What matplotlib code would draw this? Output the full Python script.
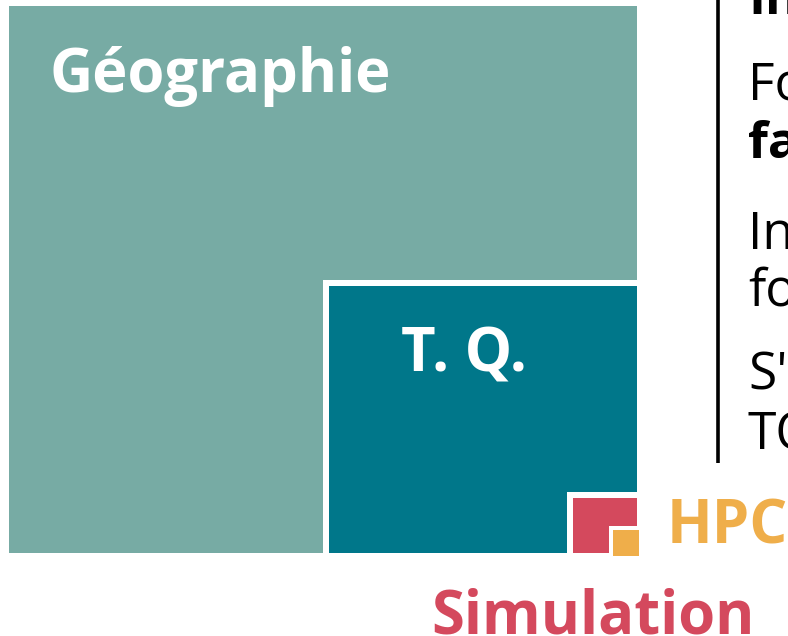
import matplotlib
matplotlib.use("Agg")
import matplotlib.pyplot as plt
from matplotlib.patches import Rectangle

plt.rcParams['font.family'] = ['Open Sans', 'DejaVu Sans']

# nested blocks, largest first (pixel sizes)
labels = ["Géographie", "T. Q.", "Simulation", "HPC"]
block_w = [628, 308, 64, 26]
block_h = [547, 267, 55, 26]
block_right = [637, 637, 637, 639]
block_bottom = [553, 553, 553, 556]
border = [0, 6, 6, 4]
colors = ["#77aba4", "#00778a", "#d4495d", "#efae4a"]

# label placement (x, baseline y) and colour
label_xy = [(50, 92), (401, 372), (431, 633), (667, 543)]
label_color = ["white", "white", "#d4495d", "#efae4a"]

# side text, cut by the right edge of the figure
side_lines = ["In", "Fo", "fa", "In", "fo", "S'a", "TQ"]
side_bold = [True, False, True, False, False, False, False]
side_y = [14, 100, 158, 249, 305, 390, 449]

fig = plt.figure(figsize=(7.88, 6.36), dpi=100)
ax = fig.add_axes([0, 0, 1, 1])
ax.set_xlim(0, 788)
ax.set_ylim(636, 0)
ax.axis('off')

for w, h, r, b, bd, c in zip(block_w, block_h, block_right, block_bottom, border, colors):
    x0 = r - w
    y0 = b - h
    if bd:
        ax.add_patch(Rectangle((x0 - bd, y0 - bd), w + bd, h + bd, color='white', lw=0))
    ax.add_patch(Rectangle((x0, y0), w, h, color=c, lw=0))

for lab, (x, y), c in zip(labels, label_xy, label_color):
    ax.text(x, y, lab, color=c, fontsize=43, fontweight='bold', va='baseline', ha='left')

# separator line
ax.plot([718, 718], [0, 463], color='black', lw=2.6, solid_capstyle='butt')

for t, b, y in zip(side_lines, side_bold, side_y):
    ax.text(748, y, t, color='black', fontsize=37, fontweight='bold' if b else 'normal',
            va='baseline', ha='left', clip_on=True)

fig.savefig("out.png", dpi=100)
